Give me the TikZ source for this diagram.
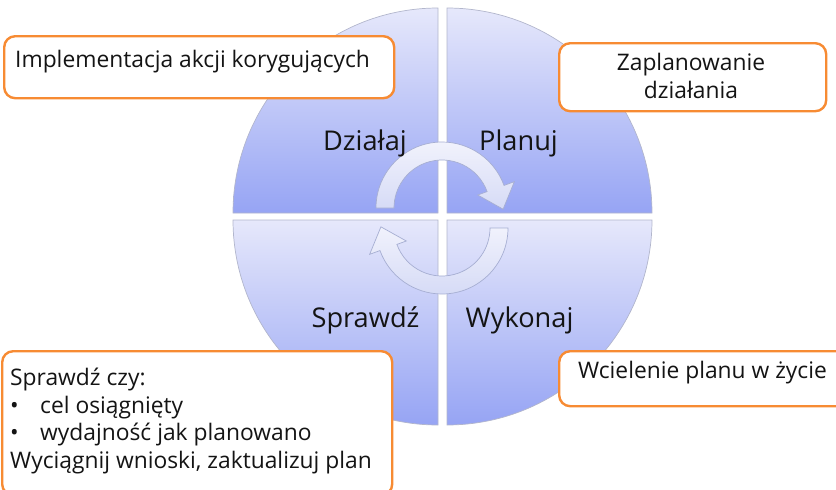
\documentclass[tikz,border=0pt]{standalone}
\usepackage{fontspec}
\setmainfont{Open Sans}
\usetikzlibrary{calc}
\definecolor{quadtop}{HTML}{E6E8FB}
\definecolor{quadbot}{HTML}{96A4F4}
\definecolor{quadline}{HTML}{B2B6CC}
\definecolor{arrtop}{HTML}{F1F2FC}
\definecolor{arrbot}{HTML}{D6DBF6}
\definecolor{arrline}{HTML}{A6AED2}
\definecolor{calloutline}{HTML}{F78B33}
\definecolor{ink}{HTML}{141414}
\begin{document}
\begin{tikzpicture}[x=1pt,y=-1pt,
  quad/.style={draw=quadline, line width=0.7pt, top color=quadtop, bottom color=quadbot},
  cyclearrow/.style={draw=arrline, line width=0.7pt, top color=arrtop, bottom color=arrbot, line join=miter},
  callout/.style={draw=calloutline, line width=2.4pt, fill=white, rounded corners=11pt, inner sep=0pt, anchor=north west},
  calltext/.style={inner sep=0pt, text=ink, font=\fontsize{22.8}{27.5}\selectfont},
  stage/.style={inner sep=0pt, text=ink, font=\fontsize{27.2}{30}\selectfont, anchor=base}]
\clip (0,0) rectangle (836,490);
\useasboundingbox (0,0) rectangle (836,490);

% four quarter discs of the cycle
\draw[quad] (438,213) -- ++(-205,0) arc[start angle=180, end angle=270, radius=205] -- cycle;
\draw[quad] (447,213) -- ++(205,0) arc[start angle=0, end angle=-90, radius=205] -- cycle;
\draw[quad] (438,220) -- ++(-205,0) arc[start angle=180, end angle=90, radius=205] -- cycle;
\draw[quad] (447,220) -- ++(205,0) arc[start angle=0, end angle=90, radius=205] -- cycle;

% curved arrows turning clockwise
\coordinate (ctop) at (442,208);
\coordinate (cbot) at (442,228);
\draw[cyclearrow] ($(ctop)+(180:66)$) arc[start angle=180, end angle=340, radius=66]
  -- ($(ctop)+(340:77)$) -- ($(ctop)+(340:57)+(70:22)$) -- ($(ctop)+(340:38)$)
  -- ($(ctop)+(340:48)$) arc[start angle=340, end angle=180, radius=48] -- cycle;
\draw[cyclearrow] ($(cbot)+(0:66)$) arc[start angle=0, end angle=160, radius=66]
  -- ($(cbot)+(160:77)$) -- ($(cbot)+(160:57)+(250:22)$) -- ($(cbot)+(160:38)$)
  -- ($(cbot)+(160:48)$) arc[start angle=160, end angle=0, radius=48] -- cycle;

% stage names
\node[stage] (act) at (365,150) {Działaj};
\node[stage] (plan) at (518.5,150) {Planuj};
\node[stage] (check) at (365.5,327) {Sprawdź};
\node[stage] (do) at (519.5,327) {Wykonaj};

% callouts
\node[callout, minimum width=390pt, minimum height=62pt] (actbox) at (3,35) {};
\node[calltext, anchor=base west] (acttext) at (15,67) {Implementacja akcji korygujących};

\node[callout, minimum width=267pt, minimum height=68pt] (planbox) at (558,42) {};
\node[calltext, anchor=base, align=center] (plantext) at (691,98) {Zaplanowanie\\działania};

\node[callout, minimum width=390pt, minimum height=144pt] (checkbox) at (1,350) {};
\node[calltext, anchor=base west, align=left] (checktext) at (10,468)
  {Sprawdź czy:\\
   \makebox[30pt][l]{•}cel osiągnięty\\
   \makebox[30pt][l]{•}wydajność jak planowano\\
   Wyciągnij wnioski, zaktualizuj plan};

\node[callout, minimum width=292pt, minimum height=55pt] (dobox) at (558,350) {};
\node[calltext, anchor=base west] (dotext) at (578,378) {Wcielenie planu w życie};
\end{tikzpicture}
\end{document}
